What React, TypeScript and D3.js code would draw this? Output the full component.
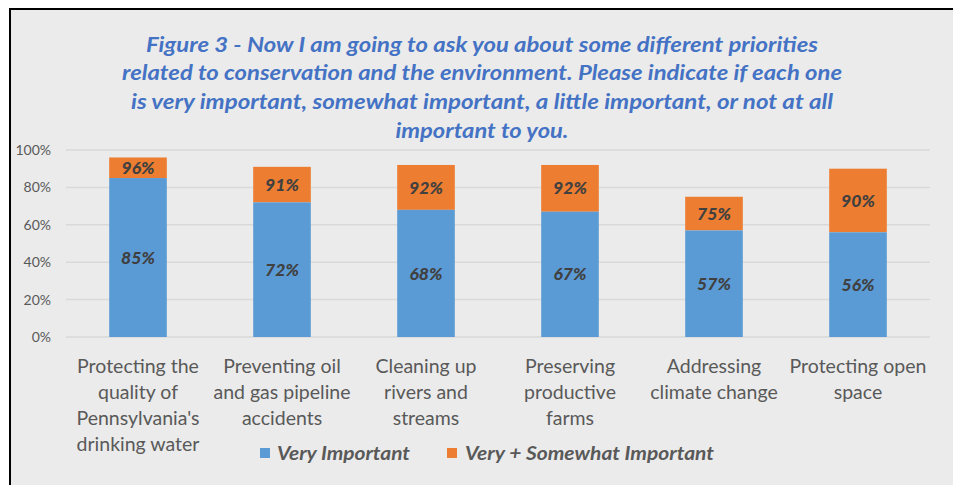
import React from "react";
import * as d3 from "d3";

const categories: string[][] = [
  ["Protecting the", "quality of", "Pennsylvania's", "drinking water"],
  ["Preventing oil", "and gas pipeline", "accidents"],
  ["Cleaning up", "rivers and", "streams"],
  ["Preserving", "productive", "farms"],
  ["Addressing", "climate change"],
  ["Protecting open", "space"],
];
const veryImportant = [85, 72, 68, 67, 57, 56];
const verySomewhat = [96, 91, 92, 92, 75, 90];
const yTicks = [0, 20, 40, 60, 80, 100];
const titleLines = [
  "Figure 3 - Now I am going to ask you about some different priorities",
  "related to conservation and the environment. Please indicate if each one",
  "is very important, somewhat important, a little important, or not at all",
  "important to you.",
];
const seriesNames = ["Very Important", "Very + Somewhat Important"];

const W = 953;
const H = 485;
const BLUE = "#5b9bd5";
const ORANGE = "#ed7d31";
const GRAY = "#595959";
const FONT = "Lato, 'Open Sans', sans-serif";

export default function App() {
  const x = d3
    .scaleBand<number>()
    .domain(d3.range(categories.length))
    .range([66, 930])
    .paddingInner(0.6)
    .paddingOuter(0.3);
  const y = d3.scaleLinear().domain([0, 100]).range([337, 150]);
  const titleWidths = [672, 720, 702, 173];
  const titleY = [52, 80, 109, 138];

  return (
    <svg
      width={W}
      height={H}
      style={{ position: "absolute", left: 0, top: 0, fontFamily: FONT }}
    >
      <rect x={0} y={0} width={W} height={H} fill="#ffffff" />
      <rect x={10} y={9} width={W} height={H} fill="#ebebeb" stroke="#000" strokeWidth={2} />
      {titleLines.map((t, i) => (
        <text
          key={i}
          x={482}
          y={titleY[i]}
          textAnchor="middle"
          fill="#4472c4"
          fontSize={20}
          fontWeight="bold"
          fontStyle="italic"
          textLength={titleWidths[i]}
          lengthAdjust="spacingAndGlyphs"
        >
          {t}
        </text>
      ))}
      {yTicks.map((t) => (
        <g key={t}>
          <line x1={66} x2={930} y1={y(t)} y2={y(t)} stroke="#d9d9d9" strokeWidth={1.5} />
          <text x={51} y={y(t)} dy="0.35em" textAnchor="end" fill={GRAY} fontSize={14}>
            {t}%
          </text>
        </g>
      ))}
      {categories.map((c, i) => {
        const bx = x(i)!;
        const bw = x.bandwidth();
        const cx = bx + bw / 2;
        return (
          <g key={i}>
            <rect x={bx} y={y(verySomewhat[i])} width={bw} height={y(veryImportant[i]) - y(verySomewhat[i])} fill={ORANGE} />
            <rect x={bx} y={y(veryImportant[i])} width={bw} height={y(0) - y(veryImportant[i])} fill={BLUE} />
            <text
              x={cx}
              y={(y(verySomewhat[i]) + y(veryImportant[i])) / 2}
              dy="0.35em"
              textAnchor="middle"
              fill="#404040"
              fontSize={17.5}
              fontWeight="900"
              fontStyle="italic"
            >
              {verySomewhat[i]}%
            </text>
            <text
              x={cx}
              y={(y(veryImportant[i]) + y(0)) / 2}
              dy="0.35em"
              textAnchor="middle"
              fill="#404040"
              fontSize={17.5}
              fontWeight="900"
              fontStyle="italic"
            >
              {veryImportant[i]}%
            </text>
            {c.map((line, j) => (
              <text
                key={j}
                x={cx}
                y={366 + j * 26}
                dy="0.35em"
                textAnchor="middle"
                fill={GRAY}
                fontSize={19.5}
              >
                {line}
              </text>
            ))}
          </g>
        );
      })}
      <g>
        <rect x={260} y={448} width={10} height={10} fill={BLUE} />
        <text x={277} y={453} dy="0.35em" fill={GRAY} fontSize={19} fontWeight="bold" fontStyle="italic" textLength={133} lengthAdjust="spacingAndGlyphs">
          {seriesNames[0]}
        </text>
        <rect x={447} y={448} width={10} height={10} fill={ORANGE} />
        <text x={465} y={453} dy="0.35em" fill={GRAY} fontSize={19} fontWeight="bold" fontStyle="italic" textLength={249} lengthAdjust="spacingAndGlyphs">
          {seriesNames[1]}
        </text>
      </g>
    </svg>
  );
}
